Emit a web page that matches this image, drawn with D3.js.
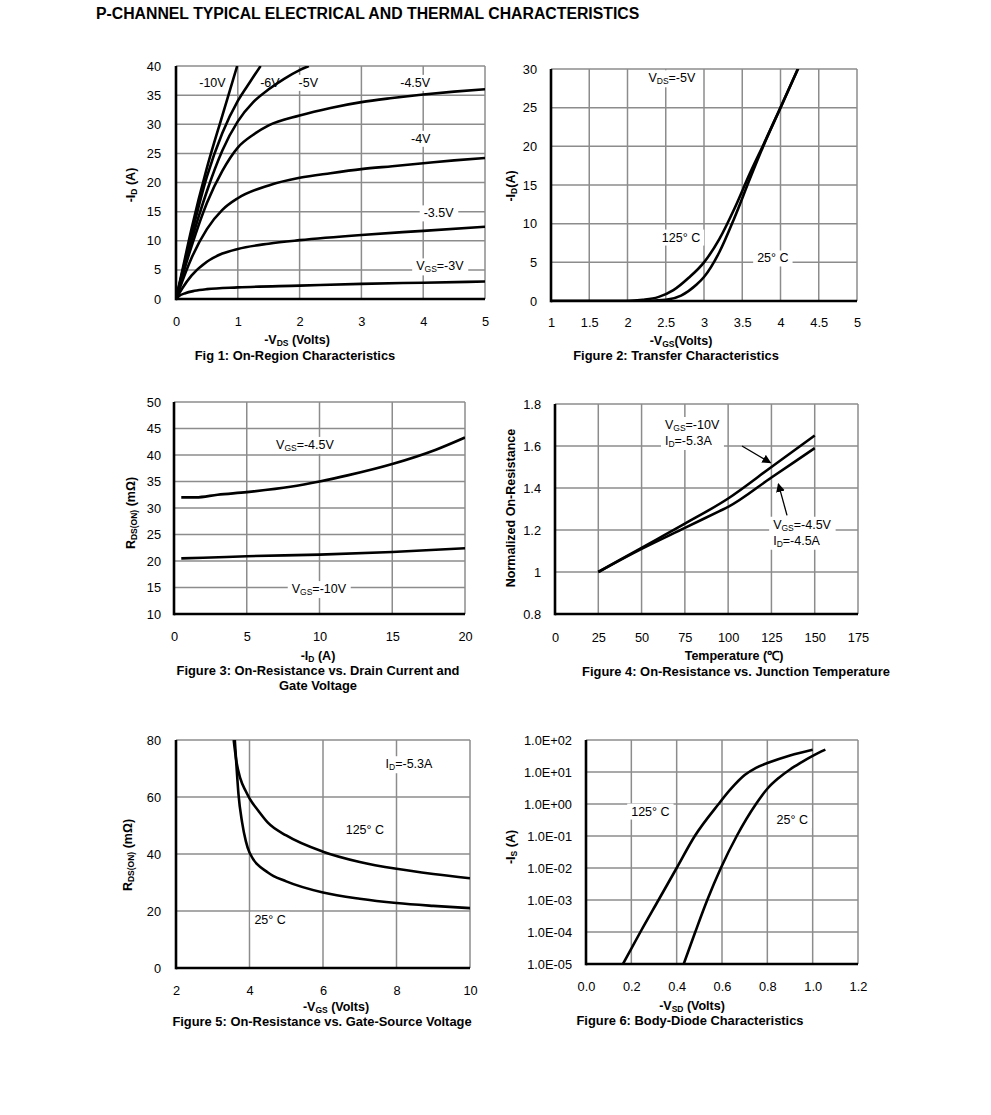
<!DOCTYPE html>
<html lang="en">
<head>
<meta charset="UTF-8">
<title>P-Channel Typical Characteristics</title>
<script src="https://cdn.jsdelivr.net/npm/d3@7"></script>
<style>
	body { margin: 0; background: #fff; }
	text { font-family: "Liberation Sans", Arial, sans-serif; fill: #000; }
</style>
</head>
<body>
<svg id="viz"></svg>
<script>
	// Fig 1: -ID vs -VDS, one curve per VGS
	const fig1Vgs10 = [[0,0],[0.1,4.8],[0.25,12],[0.5,22.5],[0.75,31.5],[0.99,40]];
	const fig1Vgs6 = [[0,0],[0.1,4.5],[0.25,11],[0.5,21],[0.75,28.5],[1,34],[1.2,37.3],[1.37,40]];
	const fig1Vgs5 = [[0,0],[0.1,4.2],[0.25,10],[0.5,18.5],[0.75,25.5],[1,30.5],[1.25,33.8],[1.5,36],[1.75,37.8],[2,39.3],[2.15,40]];
	const fig1Vgs45 = [[0,0],[0.1,3.8],[0.25,9],[0.5,16.5],[0.75,22],[1,26],[1.25,28.2],[1.5,29.8],[2,31.5],[2.5,32.8],[3,33.8],[3.5,34.5],[4,35.1],[4.5,35.6],[5,36]];
	const fig1Vgs4 = [[0,0],[0.1,3],[0.25,7],[0.5,12],[0.75,15.3],[1,17.3],[1.5,19.5],[2,20.8],[2.5,21.6],[3,22.3],[3.5,22.8],[4,23.3],[4.5,23.8],[5,24.2]];
	const fig1Vgs35 = [[0,0],[0.1,1.8],[0.25,4],[0.5,6.4],[0.75,7.8],[1,8.6],[1.5,9.5],[2,10.1],[3,11],[4,11.7],[5,12.4]];
	const fig1Vgs3 = [[0,0],[0.05,0.5],[0.15,1.0],[0.3,1.4],[0.5,1.7],[1,2.0],[2,2.3],[3,2.6],[4,2.8],[5,3.0]];

	// Fig 2: transfer
	const fig2T125 = [[1,0],[2,0],[2.2,0.15],[2.4,0.5],[2.6,1.4],[2.8,3],[3,5],[3.2,8],[3.4,12],[3.6,16.5],[3.8,20.7],[4,25],[4.25,30.5]];
	const fig2T25 = [[1,0],[2.2,0],[2.5,0.15],[2.7,0.7],[2.9,2.1],[3,3.1],[3.2,6.3],[3.4,10.8],[3.6,15.8],[3.8,20.6],[4,25],[4.25,30.5]];

	// Fig 3: RDS(on) vs -ID
	const fig3Vgs45 = [[0.5,32],[1.5,32],[3,32.5],[5,33],[8,34],[10,35],[12,36.2],[15,38.3],[18,41],[20,43.3]];
	const fig3Vgs10 = [[0.5,20.5],[2,20.6],[5,20.9],[10,21.2],[15,21.7],[20,22.4]];

	// Fig 4: normalized RDS(on) vs temperature
	const fig4Vgs10 = [[25,1],[50,1.115],[75,1.23],[100,1.35],[125,1.5],[150,1.65]];
	const fig4Vgs45 = [[25,1],[50,1.11],[75,1.21],[95,1.29],[100,1.31],[125,1.45],[150,1.59]];

	// Fig 5: RDS(on) vs -VGS
	const fig5T125 = [[3.57,80],[3.65,72],[3.75,66.5],[3.9,62],[4,59.5],[4.25,55],[4.5,51],[5,46.5],[6,40.8],[7,37.2],[8,34.8],[9,33],[10,31.5]];
	const fig5T25 = [[3.6,80],[3.65,70],[3.7,61],[3.8,51],[3.9,44.5],[4,40.5],[4.5,33.5],[5,30.4],[6,26.5],[7,24.3],[8,22.8],[9,21.8],[10,21]];

	// Fig 6: body diode, -IS (log) vs -VSD
	const fig6T125 = [[0.163,1e-5],[0.24,1e-4],[0.32,1e-3],[0.4,1e-2],[0.48,1e-1],[0.585,1],[0.64,3],[0.7,8],[0.75,13.5],[0.8,19],[0.9,33],[1.0,50]];
	const fig6T25 = [[0.431,1e-5],[0.482,1e-4],[0.535,1e-3],[0.595,1e-2],[0.665,1e-1],[0.75,1],[0.8,3],[0.85,6.5],[0.9,12],[0.95,20],[1.0,32],[1.056,50]];

	// Tick values
	const fig1XTicks = [0,1,2,3,4,5];
	const fig1YTicks = [0,5,10,15,20,25,30,35,40];
	const fig2XTicks = [1,1.5,2,2.5,3,3.5,4,4.5,5];
	const fig2YTicks = [0,5,10,15,20,25,30];
	const fig3XTicks = [0,5,10,15,20];
	const fig3YTicks = [10,15,20,25,30,35,40,45,50];
	const fig4XTicks = [0,25,50,75,100,125,150,175];
	const fig4YTicks = [0.8,1,1.2,1.4,1.6,1.8];
	const fig5XTicks = [2,4,6,8,10];
	const fig5YTicks = [0,20,40,60,80];
	const fig6XTicks = [0,0.2,0.4,0.6,0.8,1.0,1.2];
	const fig6YTicks = [1e-5,1e-4,1e-3,1e-2,1e-1,1e0,1e1,1e2];

	const gridColor = '#8c8c8c';

	const svg = d3.select('#viz').attr('width', 991).attr('height', 1115);

	svg.append('text')
		.attr('x', 96).attr('y', 18.5)
		.attr('font-size', 15.8).attr('font-weight', 'bold')
		.text('P-CHANNEL TYPICAL ELECTRICAL AND THERMAL CHARACTERISTICS');

	// text with _{sub} parts
	function addRich(sel, str, subSize) {
		const parts = str.split(/(_\{[^}]*\})/).filter(p => p.length);
		let down = false;
		parts.forEach(p => {
			if (p.startsWith('_{')) {
				sel.append('tspan').attr('font-size', subSize).attr('dy', down ? 0 : 3).text(p.slice(2, -1));
				down = true;
			} else {
				sel.append('tspan').attr('dy', down ? -3 : 0).text(p);
				down = false;
			}
		});
		return sel;
	}

	svg.append('defs').append('marker')
		.attr('id', 'arrowHead')
		.attr('viewBox', '0 0 10 10')
		.attr('refX', 9).attr('refY', 5)
		.attr('markerWidth', 9).attr('markerHeight', 9)
		.attr('markerUnits', 'userSpaceOnUse')
		.attr('orient', 'auto')
		.append('path').attr('d', 'M0,0 L10,5 L0,10 z').attr('fill', '#000');

	let clipId = 0;
	function drawChart(c) {
		const g = svg.append('g');
		const x = d3.scaleLinear().domain(c.xDomain).range([c.left, c.right]);
		const y = (c.logY ? d3.scaleLog() : d3.scaleLinear()).domain(c.yDomain).range([c.bottom, c.top]);

		// grid
		g.append('g').selectAll('line').data(c.xTicks).join('line')
			.attr('x1', d => x(d)).attr('x2', d => x(d))
			.attr('y1', c.top).attr('y2', c.bottom)
			.attr('stroke', gridColor).attr('stroke-width', 1.5);
		g.append('g').selectAll('line').data(c.yTicks).join('line')
			.attr('y1', d => y(d)).attr('y2', d => y(d))
			.attr('x1', c.left).attr('x2', c.right)
			.attr('stroke', gridColor).attr('stroke-width', 1.5);

		// label boxes then curves then label text
		const boxLayer = g.append('g');
		const curveLayer = g.append('g');
		const textLayer = g.append('g');

		const id = 'clip' + (clipId++);
		svg.select('defs').append('clipPath').attr('id', id)
			.append('rect').attr('x', c.left).attr('y', c.top)
			.attr('width', c.right - c.left).attr('height', c.bottom - c.top);

		const line = d3.line().x(d => x(d[0])).y(d => y(d[1])).curve(d3.curveMonotoneX);
		curveLayer.attr('clip-path', `url(#${id})`)
			.selectAll('path').data(c.series).join('path')
			.attr('d', line)
			.attr('fill', 'none').attr('stroke', '#000')
			.attr('stroke-width', 2.6).attr('stroke-linejoin', 'round');

		(c.arrows || []).forEach(a => {
			g.append('line')
				.attr('x1', x(a[0])).attr('y1', y(a[1]))
				.attr('x2', x(a[2])).attr('y2', y(a[3]))
				.attr('stroke', '#000').attr('stroke-width', 1.3)
				.attr('marker-end', 'url(#arrowHead)');
		});

		c.labels.forEach(l => {
			const lines = Array.isArray(l.t) ? l.t : [l.t];
			const tg = textLayer.append('g');
			lines.forEach((s, i) => {
				const t = tg.append('text')
					.attr('x', x(l.x)).attr('y', y(l.y) + i * 16)
					.attr('font-size', 12.5)
					.attr('text-anchor', l.anchor || 'middle')
					.attr('dominant-baseline', 'central');
				addRich(t, s, 8.5);
			});
			const b = tg.node().getBBox();
			boxLayer.append('rect')
				.attr('x', b.x - 4).attr('y', b.y - 1)
				.attr('width', b.width + 8).attr('height', b.height + 2)
				.attr('fill', '#fff');
		});

		// axes lines (left and bottom are black)
		g.append('line').attr('x1', c.left).attr('x2', c.right).attr('y1', c.bottom).attr('y2', c.bottom)
			.attr('stroke', '#000').attr('stroke-width', 2.6);
		g.append('line').attr('x1', c.left).attr('x2', c.left).attr('y1', c.top).attr('y2', c.bottom + 1.3)
			.attr('stroke', '#000').attr('stroke-width', 2.6);

		// tick labels via axes
		const xAxis = g.append('g').attr('transform', `translate(0,${c.bottom})`)
			.call(d3.axisBottom(x).tickValues(c.xTicks).tickFormat(c.xFmt || d3.format('')).tickSize(0).tickPadding(c.xPad));
		const yAxis = g.append('g').attr('transform', `translate(${c.left},0)`)
			.call(d3.axisLeft(y).tickValues(c.yTicks).tickFormat(c.yFmt || d3.format('')).tickSize(0).tickPadding(c.yPad));
		[xAxis, yAxis].forEach(a => {
			a.select('.domain').remove();
			a.attr('font-family', null).attr('font-size', null);
			a.selectAll('text').attr('font-size', 12.8).attr('fill', '#000');
		});
		xAxis.selectAll('text').attr('dy', null).attr('dominant-baseline', 'central').attr('y', c.xPad);

		// titles
		addRich(g.append('text').attr('x', c.xTitle[0]).attr('y', c.xTitle[1])
			.attr('text-anchor', 'middle').attr('dominant-baseline', 'central')
			.attr('font-size', 12.5).attr('font-weight', 'bold'), c.xTitle[2], 8.5);
		addRich(g.append('text')
			.attr('transform', `translate(${c.yTitle[0]},${c.yTitle[1]}) rotate(-90)`)
			.attr('text-anchor', 'middle').attr('dominant-baseline', 'central')
			.attr('font-size', 12.5).attr('font-weight', 'bold'), c.yTitle[2], 8.5);
		c.caption.forEach((s, i) => {
			g.append('text').attr('x', c.capX).attr('y', c.capY + i * 15.5)
				.attr('text-anchor', 'middle').attr('dominant-baseline', 'central')
				.attr('font-size', 12.9).attr('font-weight', 'bold').text(s);
		});
	}

	const expFmt = d => {
		const e = Math.round(Math.log10(d));
		return '1.0E' + (e >= 0 ? '+' : '-') + String(Math.abs(e)).padStart(2, '0');
	};

	drawChart({
		left: 176, right: 485, top: 66, bottom: 299,
		xDomain: [0, 5], yDomain: [0, 40], xTicks: fig1XTicks, yTicks: fig1YTicks,
		xPad: 22, yPad: 15,
		series: [fig1Vgs10, fig1Vgs6, fig1Vgs5, fig1Vgs45, fig1Vgs4, fig1Vgs35, fig1Vgs3],
		labels: [
			{ x: 0.59, y: 37.1, t: '-10V' }, { x: 1.52, y: 37.1, t: '-6V' }, { x: 2.14, y: 37.1, t: '-5V' },
			{ x: 3.87, y: 37.1, t: '-4.5V' }, { x: 3.96, y: 27.5, t: '-4V' }, { x: 4.25, y: 14.7, t: '-3.5V' },
			{ x: 4.27, y: 5.6, t: 'V_{GS}=-3V' }
		],
		xTitle: [297, 340, '-V_{DS} (Volts)'], yTitle: [131, 185, '-I_{D} (A)'],
		caption: ['Fig 1: On-Region Characteristics'], capX: 295, capY: 355
	});

	drawChart({
		left: 551, right: 857, top: 69, bottom: 301,
		xDomain: [1, 5], yDomain: [0, 30], xTicks: fig2XTicks, yTicks: fig2YTicks,
		xPad: 21, yPad: 14,
		series: [fig2T125, fig2T25],
		labels: [
			{ x: 2.58, y: 28.8, t: 'V_{DS}=-5V' }, { x: 2.7, y: 8.2, t: '125°  C' }, { x: 3.9, y: 5.5, t: '25°  C' }
		],
		xTitle: [681, 341, '-V_{GS}(Volts)'], yTitle: [511, 186, '-I_{D}(A)'],
		caption: ['Figure 2: Transfer Characteristics'], capX: 676, capY: 355
	});

	drawChart({
		left: 174, right: 465, top: 402, bottom: 614,
		xDomain: [0, 20], yDomain: [10, 50], xTicks: fig3XTicks, yTicks: fig3YTicks,
		xPad: 22, yPad: 13,
		series: [fig3Vgs45, fig3Vgs10],
		labels: [
			{ x: 9.0, y: 41.9, t: 'V_{GS}=-4.5V' }, { x: 9.96, y: 14.7, t: 'V_{GS}=-10V' }
		],
		xTitle: [318, 656, '-I_{D} (A)'], yTitle: [131, 513, 'R_{DS(ON)} (mΩ)'],
		caption: ['Figure 3: On-Resistance vs. Drain Current and', 'Gate Voltage'], capX: 318, capY: 670
	});

	drawChart({
		left: 555, right: 858, top: 404, bottom: 614,
		xDomain: [0, 175], yDomain: [0.8, 1.8], xTicks: fig4XTicks, yTicks: fig4YTicks,
		xPad: 23, yPad: 14,
		series: [fig4Vgs10, fig4Vgs45],
		labels: [
			{ x: 63.5, y: 1.70, t: ['V_{GS}=-10V', 'I_{D}=-5.3A'], anchor: 'start' },
			{ x: 126, y: 1.225, t: ['V_{GS}=-4.5V', 'I_{D}=-4.5A'], anchor: 'start' }
		],
		arrows: [[108, 1.60, 124.5, 1.52], [134, 1.27, 129, 1.42]],
		xTitle: [734, 656, 'Temperature (℃)'], yTitle: [511, 508, 'Normalized On-Resistance'],
		caption: ['Figure 4: On-Resistance vs. Junction Temperature'], capX: 736, capY: 671
	});

	drawChart({
		left: 176, right: 470, top: 740, bottom: 968,
		xDomain: [2, 10], yDomain: [0, 80], xTicks: fig5XTicks, yTicks: fig5YTicks,
		xPad: 22, yPad: 15,
		series: [fig5T125, fig5T25],
		labels: [
			{ x: 8.34, y: 71.5, t: 'I_{D}=-5.3A' }, { x: 7.14, y: 48.5, t: '125°  C' }, { x: 4.56, y: 16.9, t: '25°  C' }
		],
		xTitle: [336, 1007, '-V_{GS} (Volts)'], yTitle: [128, 855, 'R_{DS(ON)} (mΩ)'],
		caption: ['Figure 5: On-Resistance vs. Gate-Source Voltage'], capX: 322, capY: 1021
	});

	drawChart({
		left: 586, right: 858, top: 740, bottom: 964,
		xDomain: [0, 1.2], yDomain: [1e-5, 1e2], logY: true, xTicks: fig6XTicks, yTicks: fig6YTicks,
		xFmt: d3.format('.1f'), yFmt: expFmt,
		xPad: 22, yPad: 14,
		series: [fig6T125, fig6T25],
		labels: [
			{ x: 0.284, y: 0.58, t: '125°  C' }, { x: 0.91, y: 0.316, t: '25°  C' }
		],
		xTitle: [692, 1006, '-V_{SD} (Volts)'], yTitle: [511, 847, '-I_{S} (A)'],
		caption: ['Figure 6: Body-Diode Characteristics'], capX: 690, capY: 1020
	});
</script>
</body>
</html>
